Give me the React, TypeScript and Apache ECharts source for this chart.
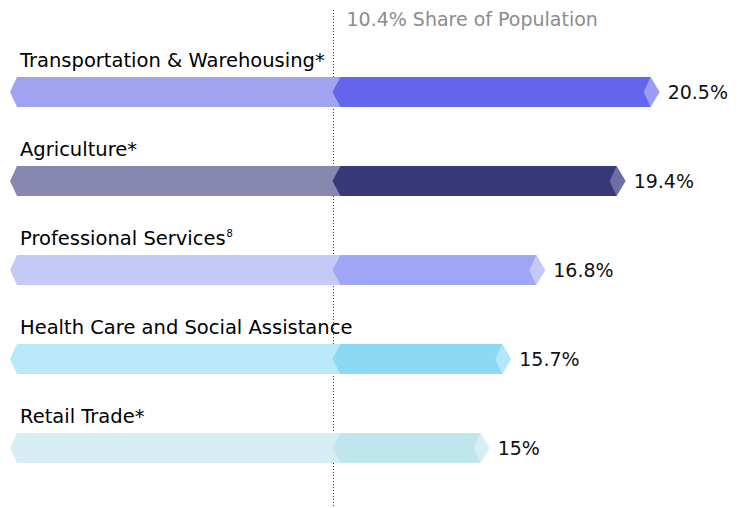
import React, { useEffect, useRef } from "react";
import * as echarts from "echarts";

const categories = [
  "Transportation & Warehousing*",
  "Agriculture*",
  "Professional Services",
  "Health Care and Social Assistance",
  "Retail Trade*",
];
const footnotes = ["", "", "8", "", ""];
const values = [20.5, 19.4, 16.8, 15.7, 15];
const valueLabels = ["20.5%", "19.4%", "16.8%", "15.7%", "15%"];
const populationShare = 10.4;
const populationLabel = "10.4% Share of Population";

const lightColors = ["#A0A2F2", "#8787B0", "#C5C9F6", "#B9E8F9", "#D6EEF3"];
const darkColors = ["#6366EB", "#39397A", "#9FA6F5", "#8AD9F5", "#BEE6EC"];
const capColors = ["#9A9CF3", "#6E6EA2", "#C4C9F8", "#B2E7F9", "#D6EFF5"];

const FONT = "'DejaVu Sans', sans-serif";
const LINE_SHIFT = -5;

export default function App() {
  const ref = useRef<HTMLDivElement>(null);
  useEffect(() => {
    if (!ref.current) return;
    const chart = echarts.init(ref.current, undefined, { renderer: "svg" });
    const option: any = {
      animation: false,
      grid: { left: 17, right: 43, top: 47.5, bottom: 15.5 },
      xAxis: { type: "value", min: 0, max: 22, show: false },
      yAxis: { type: "category", data: categories, inverse: true, show: false },
      series: [
        {
          type: "custom",
          z: 10,
          encode: { x: 0, y: 1 },
          data: values.map((v, i) => [v, i]),
          renderItem: (params: any, api: any) => {
            const v = api.value(0);
            const i = api.value(1);
            const p0 = api.coord([0, i]);
            const x0 = p0[0];
            const cy = p0[1];
            const xl = api.coord([populationShare, i])[0] + LINE_SHIFT;
            const xs = xl + 7;
            const xv = api.coord([v, i])[0];
            const h = 15;
            const tip = 7;
            return {
              type: "group",
              children: [
                {
                  type: "polygon",
                  shape: {
                    points: [
                      [x0 - tip, cy],
                      [x0, cy - h],
                      [xv, cy - h],
                      [xv, cy + h],
                      [x0, cy + h],
                    ],
                  },
                  style: { fill: lightColors[i] },
                },
                {
                  type: "polygon",
                  shape: {
                    points: [
                      [xl - 1, cy],
                      [xs, cy - h],
                      [xv, cy - h],
                      [xv, cy + h],
                      [xs, cy + h],
                    ],
                  },
                  style: { fill: darkColors[i] },
                },
                {
                  type: "polygon",
                  shape: {
                    points: [
                      [xv - 7, cy],
                      [xv, cy - h],
                      [xv + 9, cy],
                      [xv, cy + h],
                    ],
                  },
                  style: { fill: capColors[i] },
                },
                {
                  type: "text",
                  x: xv + 17,
                  y: cy,
                  style: {
                    text: valueLabels[i],
                    fill: "#111111",
                    font: `19px ${FONT}`,
                    verticalAlign: "middle",
                    align: "left",
                  },
                },
                {
                  type: "text",
                  x: x0 + 3,
                  y: cy - 32,
                  style: {
                    text: footnotes[i]
                      ? `{a|${categories[i]}}{s|${footnotes[i]}}`
                      : `{a|${categories[i]}}`,
                    verticalAlign: "middle",
                    align: "left",
                    rich: {
                      a: { fontSize: 19.5, fontFamily: FONT, color: "#111111" },
                      s: {
                        fontSize: 10,
                        fontFamily: FONT,
                        color: "#111111",
                        verticalAlign: "top",
                        padding: [0, 0, 8, 1],
                      },
                    },
                  },
                },
              ],
            };
          },
        },
      ],
    };
    chart.setOption(option);
    const lx =
      (chart.convertToPixel({ xAxisIndex: 0 }, populationShare) as number) + LINE_SHIFT;
    chart.setOption({
      graphic: [
        {
          type: "line",
          z: 1,
          shape: { x1: lx, y1: 10, x2: lx, y2: 508 },
          style: { stroke: "#333333", lineWidth: 1, lineDash: [1, 2] },
        },
        {
          type: "text",
          x: lx + 13,
          y: 19,
          style: {
            text: populationLabel,
            fill: "#8c8c8c",
            font: `19px ${FONT}`,
            verticalAlign: "middle",
            align: "left",
          },
        },
      ],
    });
    return () => chart.dispose();
  }, []);
  return <div ref={ref} style={{ width: 740, height: 508, position: "absolute", left: 0, top: 0 }} />;
}
